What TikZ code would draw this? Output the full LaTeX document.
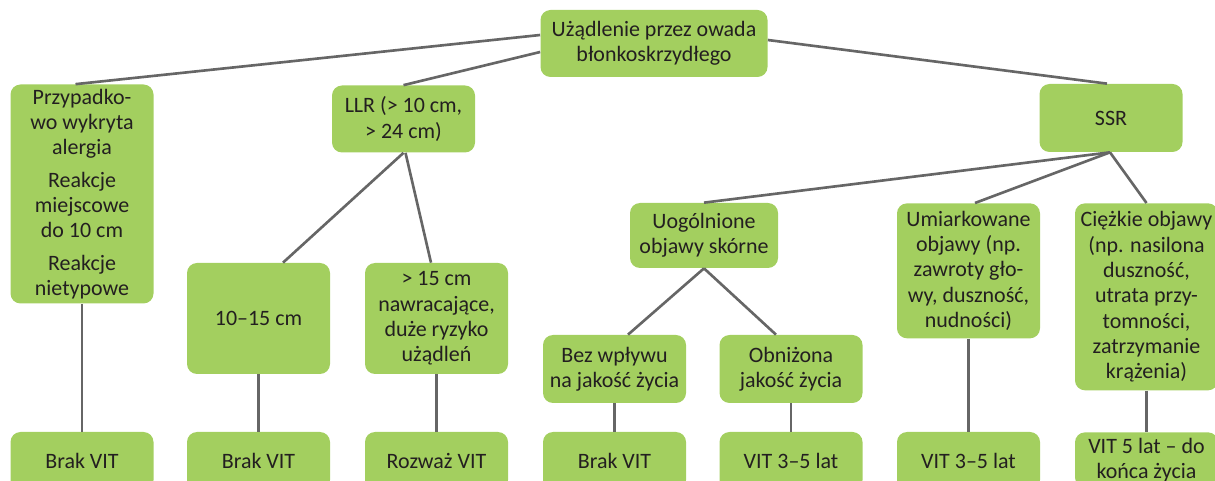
\documentclass[tikz,border=0pt]{standalone}
\usepackage{fontspec}
\setmainfont{Carlito}
\usepackage{tikz}
\definecolor{leafgreen}{RGB}{163, 207, 95}
\definecolor{linkgray}{RGB}{102, 102, 102}
\definecolor{inkdark}{RGB}{35, 31, 32}

\begin{document}
\begin{tikzpicture}[
    box/.style={fill=leafgreen, rounded corners=0.2cm, align=center, inner sep=0pt,
        text=inkdark, font=\fontsize{12.5}{14.4}\selectfont, minimum width=2.86cm},
    link/.style={draw=linkgray, line width=1.5pt}
  ]
    \useasboundingbox (0,0) rectangle (24.3,-9.62);
    \begin{scope}
    \clip (0,0) rectangle (24.3,-9.62);

    % Root
    \node[box, minimum width=4.54cm, minimum height=1.34cm] (root) at (13.08,-0.87)
        {Użądlenie przez owada\\błonkoskrzydłego};

    % Second level
    \node[box, minimum height=4.38cm] (aler) at (1.64,-3.88)
        {Przypadko-\\wo wykryta\\alergia\\[4pt]Reakcje\\miejscowe\\do 10 cm\\[4pt]Reakcje\\nietypowe};
    \node[box, minimum height=1.34cm] (llr) at (8.07,-2.38) {LLR (> 10 cm,\\> 24 cm)};
    \node[box, minimum height=1.36cm] (ssr) at (22.22,-2.36) {SSR};

    % LLR branches
    \node[box, minimum height=2.22cm] (small) at (5.17,-6.37) {10–15 cm};
    \node[box, minimum height=2.22cm] (large) at (8.73,-6.37)
        {> 15 cm\\nawracające,\\duże ryzyko\\użądleń};

    % SSR branches
    \node[box, minimum width=2.96cm, minimum height=1.30cm] (skin) at (14.08,-4.71)
        {Uogólnione\\objawy skórne};
    \node[box, minimum height=2.70cm, anchor=north] (moder) at (19.37,-4.06)
        {Umiarkowane\\objawy (np.\\zawroty gło-\\wy, duszność,\\nudności)};
    \node[box, minimum height=3.74cm, anchor=north] (severe) at (22.93,-4.06)
        {Ciężkie objawy\\(np. nasilona\\duszność,\\utrata przy-\\tomności,\\zatrzymanie\\krążenia)};

    % Skin branches
    \node[box, minimum height=1.36cm] (noqol) at (12.29,-7.38) {Bez wpływu\\na jakość życia};
    \node[box, minimum height=1.36cm] (lowqol) at (15.82,-7.38) {Obniżona\\jakość życia};

    % Decisions
    \node[box, minimum height=1.16cm] (d1) at (1.64,-9.22) {Brak VIT};
    \node[box, minimum height=1.16cm] (d2) at (5.17,-9.22) {Brak VIT};
    \node[box, minimum height=1.16cm] (d3) at (8.73,-9.22) {Rozważ VIT};
    \node[box, minimum height=1.16cm] (d4) at (12.29,-9.22) {Brak VIT};
    \node[box, minimum height=1.16cm] (d5) at (15.82,-9.22) {VIT 3–5 lat};
    \node[box, minimum height=1.16cm] (d6) at (19.37,-9.22) {VIT 3–5 lat};
    \node[box, inner ysep=0.11cm, anchor=north] (d7) at (22.93,-8.64)
        {VIT 5 lat – do\\końca życia};

    % Connectors
    \draw[link] ([yshift=0.17cm]root.west) -- ([xshift=-0.13cm]aler.north);
    \draw[link] ([yshift=-0.17cm]root.west) -- (llr.north);
    \draw[link] ([yshift=0.07cm]root.east) -- ([xshift=-0.08cm]ssr.north);
    \draw[link] (llr.south) -- ([xshift=0.49cm]small.north);
    \draw[link] ([xshift=0.04cm]llr.south) -- ([xshift=-0.11cm]large.north);
    \draw[link] ([xshift=-0.02cm]ssr.south) -- (skin.north);
    \draw[link] ([xshift=-0.02cm]ssr.south) -- ([xshift=0.13cm]moder.north);
    \draw[link] ([xshift=-0.02cm]ssr.south) -- (severe.north);
    \draw[link] (skin.south) -- ([xshift=0.27cm]noqol.north);
    \draw[link] (skin.south) -- ([xshift=-0.3cm]lowqol.north);
    \foreach \up/\down in {aler/d1, small/d2, large/d3, noqol/d4, lowqol/d5, moder/d6, severe/d7}
        \draw[link] (\up.south) -- (\down.north);
    \end{scope}
\end{tikzpicture}
\end{document}
